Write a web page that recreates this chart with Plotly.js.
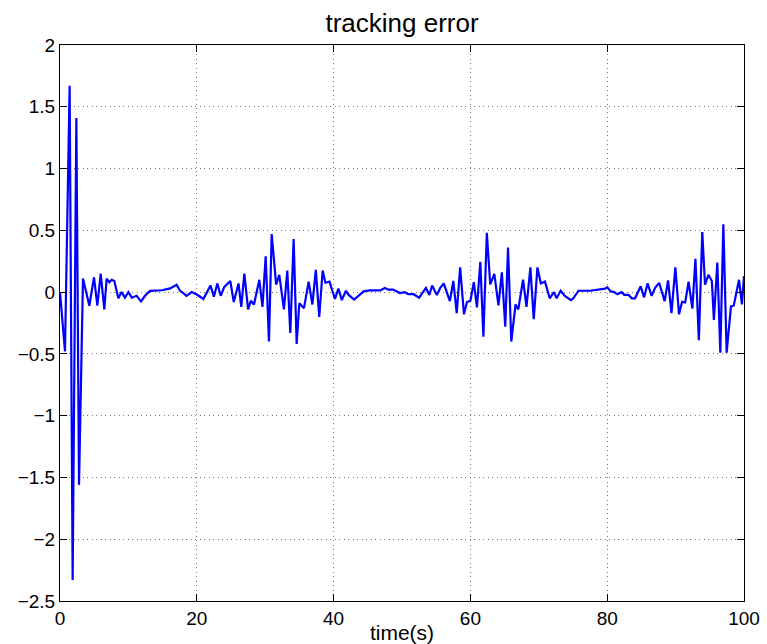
<!DOCTYPE html>
<html>
<head>
<meta charset="utf-8">
<script src="https://cdn.plot.ly/plotly-3.0.1.min.js"></script>
<style>html,body{margin:0;padding:0;background:#fff;}#chart{width:767px;height:644px;}</style>
</head>
<body>
<div id="chart"></div>
<script>
// time (s)
const time = [
  0, 0.73, 1.41, 1.85, 2.39, 2.78, 3.36, 4.29, 4.97, 5.46, 5.95, 6.48, 6.82, 7.21, 7.55, 7.94,
  8.53, 9.0, 9.5, 10.0, 10.5, 11.2, 11.84, 12.43, 13.16, 14.9, 16.1, 17.05, 17.5, 18.5, 19.25, 20.0,
  20.96, 22.0, 22.5, 23.0, 23.5, 24.0, 24.9, 25.4, 26.1, 26.5, 26.95, 27.5, 27.9, 28.36, 29.14, 29.6,
  30.07, 30.55, 30.95, 31.6, 32.06, 32.74, 33.23, 33.67, 34.16, 34.6, 34.99, 35.67, 36.35, 36.9,
  37.4, 37.9, 38.4, 38.8, 39.4, 40.2, 40.7, 41.2, 41.8, 42.2, 43.0, 44.4, 45.3, 46.8,
  47.5, 48.0, 48.7, 49.7, 50.4, 50.9, 51.7, 52.5, 53.5, 54.0, 54.4, 55.1, 55.6, 56.1, 57.0, 57.5,
  58.0, 58.5, 59.06, 59.5, 60.0, 60.5, 60.96, 61.45, 61.9, 62.4, 62.9, 63.5, 64.1, 64.6, 65.1, 65.5,
  65.98, 66.6, 67.0, 67.7, 68.2, 68.77, 69.26, 69.8, 70.3, 70.9, 71.6, 72.2, 72.6, 73.2, 73.8, 74.7,
  75.05, 75.8, 77.5, 78.7, 79.7, 80.0, 80.5, 81.0, 81.5, 82.1, 82.5, 83.1, 83.6, 84.07, 84.9, 85.4,
  85.9, 86.5, 87.0, 87.6, 88.4, 88.9, 89.4, 89.96, 90.5, 90.95, 91.4, 91.9, 92.45, 92.9, 93.4, 93.9,
  94.3, 94.8, 95.3, 95.6, 96.1, 96.54, 96.98, 97.46, 98.1, 98.5, 99.27, 99.7, 100
];
// tracking error
const trackingError = [
  0, -0.48, 1.67, -2.33, 1.41, -1.56, 0.11, -0.11, 0.12, -0.11, 0.15, -0.14, 0.11, 0.08, 0.10, 0.09,
  -0.05, 0, -0.045, 0, -0.045, -0.03, -0.075, -0.03, 0.01, 0.015, 0.03, 0.06, 0.015, -0.03, 0, -0.02,
  -0.056, 0.054, -0.037, 0.07, -0.03, 0.04, 0.09, -0.08, 0.07, -0.12, 0.15, -0.14, -0.07, -0.10, 0.10, -0.12,
  0.29, -0.40, 0.47, 0.06, 0.14, -0.14, 0.175, -0.33, 0.43, -0.42, -0.09, -0.13, 0.085, -0.10,
  0.18, -0.20, 0.175, 0.076, 0.085, -0.056, 0.028, -0.065, 0.011, -0.023, -0.06, 0.006, 0.014, 0.014,
  0.034, 0.02, 0.02, -0.008, 0, -0.017, -0.017, -0.045, 0.034, -0.023, 0.054, -0.023, 0.034, 0.07, -0.073, 0.09,
  -0.17, 0.20, -0.18, -0.08, -0.07, 0.08, -0.124, 0.245, -0.36, 0.48, 0.062, 0.147, -0.107, 0.16, -0.28, 0.36,
  -0.40, -0.10, -0.14, 0.10, -0.12, 0.20, -0.22, 0.20, 0.07, 0.085, -0.05, 0, -0.05, 0.011, -0.03, -0.065,
  -0.05, 0.011, 0.011, 0.02, 0.028, 0.04, 0.006, 0, -0.017, 0, -0.022, -0.022, -0.05, -0.05, 0.047, -0.042,
  0.07, -0.03, 0.034, 0.075, -0.073, 0.095, -0.17, 0.20, -0.18, -0.078, -0.084, 0.084, -0.134, 0.27, -0.39, 0.486,
  0.06, 0.14, 0.09, -0.226, 0.24, -0.49, 0.55, -0.49, -0.115, -0.11, 0.10, -0.10, 0.13
];
const xTicks = [0, 20, 40, 60, 80, 100];
const yTicks = [-2.5, -2, -1.5, -1, -0.5, 0, 0.5, 1, 1.5, 2];
const yTickLabels = ['\u22122.5', '\u22122', '\u22121.5', '\u22121', '\u22120.5', '0', '0.5', '1', '1.5', '2'];

const font = 'Liberation Sans, Arial, Helvetica, sans-serif';
const axisCommon = {
  showline: true, linecolor: '#000', linewidth: 1, mirror: 'allticks',
  ticks: 'inside', ticklen: 7, tickcolor: '#000', tickwidth: 1,
  showgrid: true, gridcolor: '#7a7a7a', griddash: '1px,3.5px', gridwidth: 1,
  zeroline: false, tickfont: {family: font, size: 19, color: '#000'}
};

const data = [{
  x: time, y: trackingError, type: 'scatter', mode: 'lines',
  line: {color: '#0000ff', width: 2.2}, hoverinfo: 'skip'
}];

const layout = {
  width: 767, height: 644,
  margin: {l: 60, r: 23, t: 45, b: 43},
  paper_bgcolor: '#fff', plot_bgcolor: '#fff',
  showlegend: false,
  title: {text: 'tracking error', font: {family: font, size: 26, color: '#000'},
          x: 0.5, xanchor: 'center', xref: 'paper', y: 1, yref: 'paper', yanchor: 'bottom', pad: {b: 13}},
  xaxis: Object.assign({}, axisCommon, {
    range: [0, 100], tickvals: xTicks, ticktext: xTicks.map(String),
    title: {text: 'time(s)', font: {family: font, size: 21, color: '#000'}, standoff: 0}
  }),
  yaxis: Object.assign({}, axisCommon, {
    range: [-2.5, 2], tickvals: yTicks, ticktext: yTickLabels
  })
};

Plotly.newPlot('chart', data, layout, {displayModeBar: false, staticPlot: true});
</script>
</body>
</html>
